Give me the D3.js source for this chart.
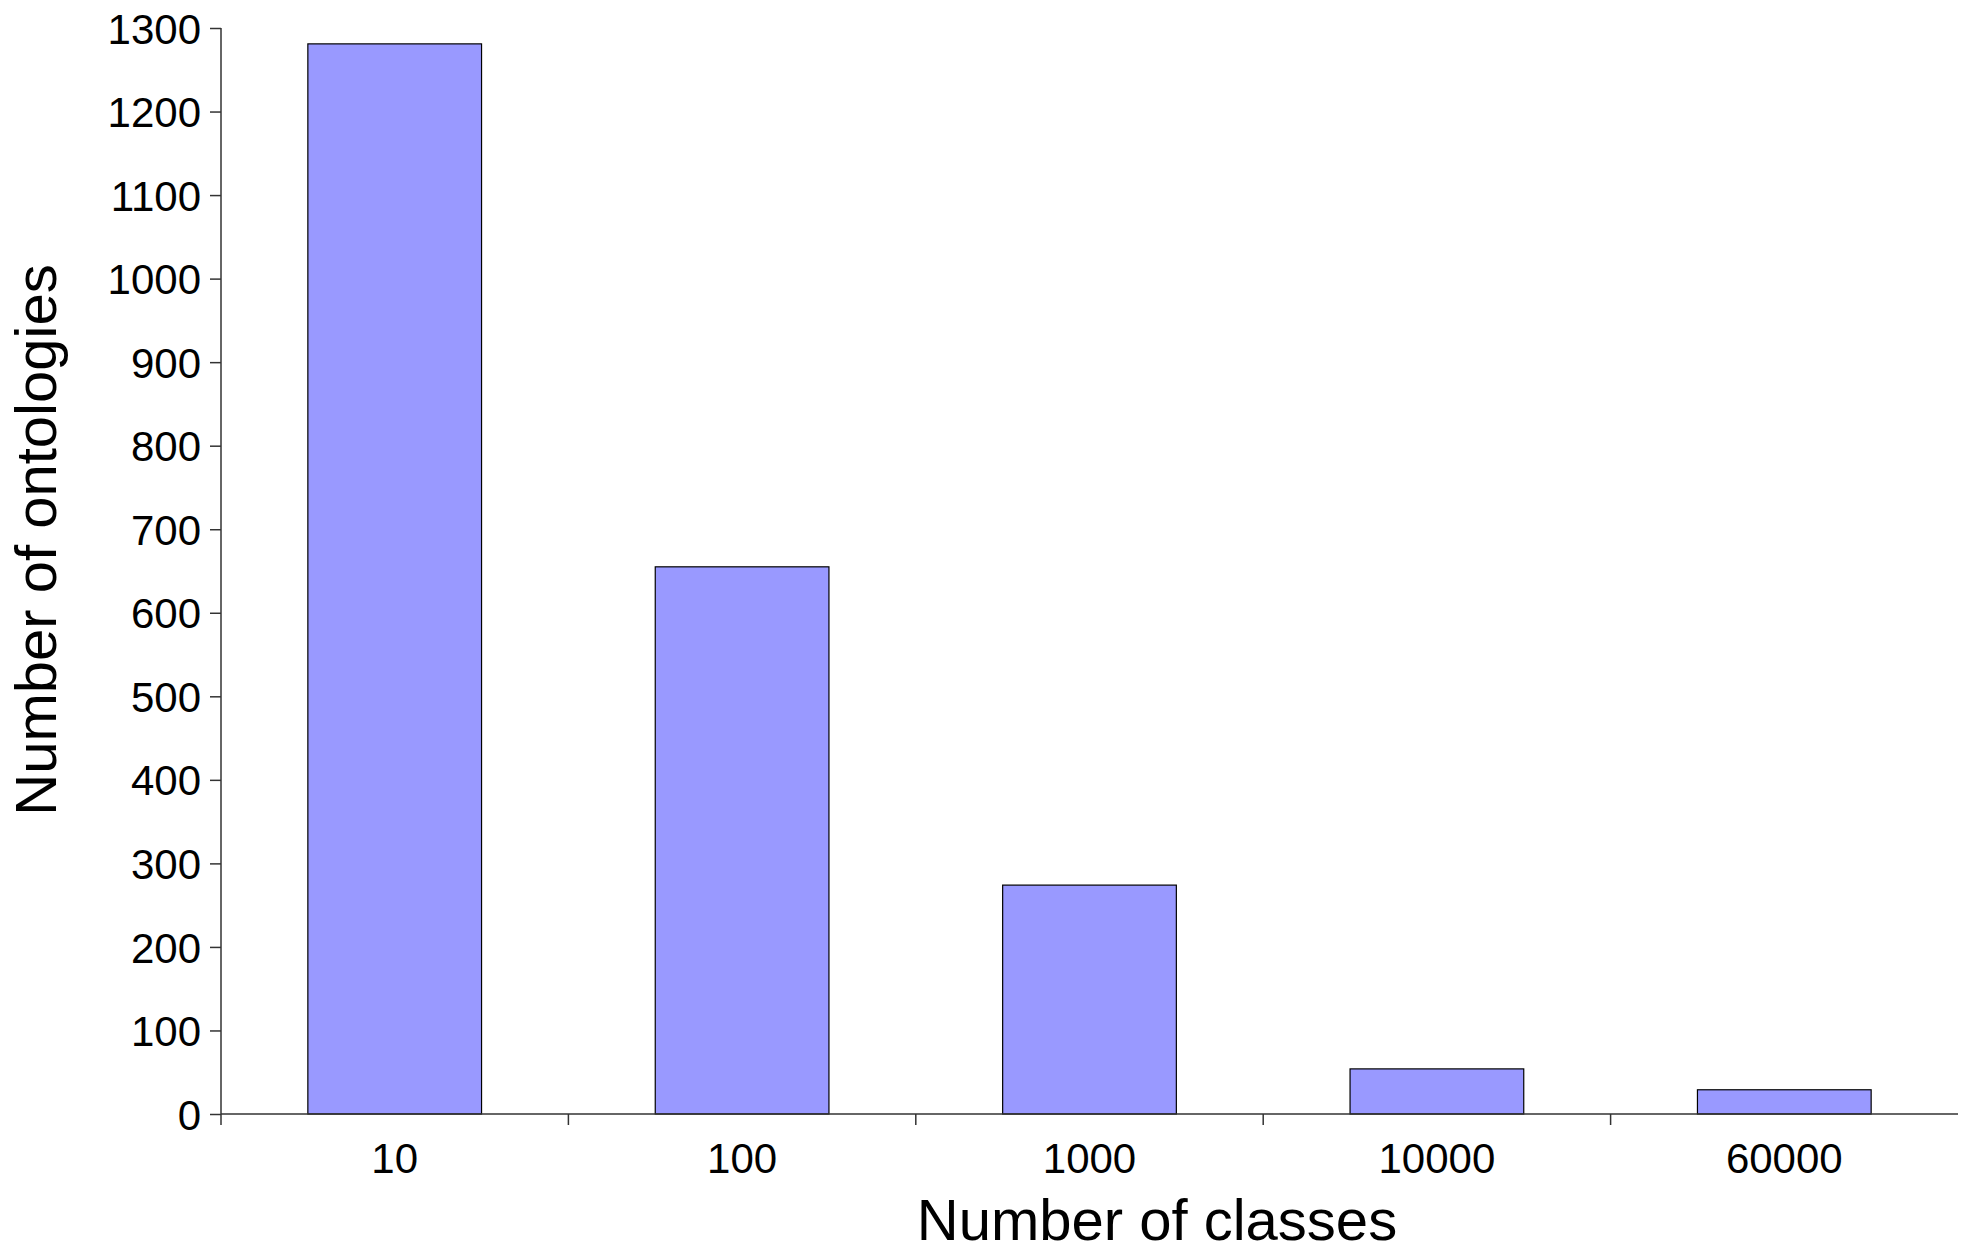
<!DOCTYPE html>
<html>
<head>
<meta charset="utf-8">
<script src="https://cdn.jsdelivr.net/npm/d3@7"></script>
<style>
    body { margin: 0; background: #fff; }
    svg { display: block; }
    text { font-family: "Liberation Sans", Arial, sans-serif; fill: #000; }
</style>
</head>
<body>
<svg id="chart" width="1972" height="1252"></svg>
<script>
// bins of class counts and how many ontologies fall in each
var categories = ["10", "100", "1000", "10000", "60000"];
var counts = [1281, 655, 274, 54, 29];
var yTicks = [0, 100, 200, 300, 400, 500, 600, 700, 800, 900, 1000, 1100, 1200, 1300];

var margin = {top: 28, right: 14, bottom: 138, left: 221},
    w = 1972 - margin.left - margin.right,
    h = 1252 - margin.top - margin.bottom;

var svg = d3.select("#chart")
    .append("g")
    .attr("transform", "translate(" + margin.left + "," + margin.top + ")");

var xScale = d3.scaleBand()
    .domain(categories)
    .range([0, w])
    .paddingInner(0.5)
    .paddingOuter(0.25);

var yScale = d3.scaleLinear()
    .domain([0, 1300])
    .range([h, 0]);

// bars
svg.append("g")
    .attr("class", "data")
    .selectAll("rect")
    .data(counts)
    .enter()
    .append("rect")
    .attr("x", function(d, i) { return xScale(categories[i]); })
    .attr("y", function(d) { return yScale(d); })
    .attr("width", xScale.bandwidth())
    .attr("height", function(d) { return h - yScale(d); })
    .style("fill", "#9999ff")
    .style("stroke", "#000")
    .style("stroke-width", 1.2);

// y axis
var yAxis = svg.append("g")
    .call(d3.axisLeft(yScale).tickValues(yTicks).tickFormat(d3.format("d")).tickSize(11).tickPadding(9));
yAxis.select(".domain").attr("d", "M0," + yScale(1300) + "V" + (h + 11)).attr("stroke", "#333").attr("stroke-width", 1.5);
yAxis.selectAll(".tick line").attr("stroke", "#333").attr("stroke-width", 1.5);
yAxis.selectAll(".tick text").style("font-size", "42px").attr("dy", "0.36em");

// x axis: labels at band centres, tick marks on band boundaries
var xAxis = svg.append("g")
    .attr("transform", "translate(0," + h + ")");
xAxis.append("line")
    .attr("x1", 0).attr("x2", w)
    .attr("stroke", "#333").attr("stroke-width", 1.5);
xAxis.selectAll("line.tick")
    .data(categories.slice(1))
    .enter()
    .append("line")
    .attr("class", "tick")
    .attr("x1", function(d) { return xScale(d) - xScale.bandwidth() / 2; })
    .attr("x2", function(d) { return xScale(d) - xScale.bandwidth() / 2; })
    .attr("y1", 0).attr("y2", 11)
    .attr("stroke", "#333").attr("stroke-width", 1.5);
xAxis.selectAll("text")
    .data(categories)
    .enter()
    .append("text")
    .attr("x", function(d) { return xScale(d) + xScale.bandwidth() / 2; })
    .attr("y", 59)
    .attr("text-anchor", "middle")
    .style("font-size", "42px")
    .text(function(d) { return d; });

// axis titles
svg.append("text")
    .attr("x", 936)
    .attr("y", h + 126)
    .attr("text-anchor", "middle")
    .style("font-size", "58px")
    .text("Number of classes");

svg.append("text")
    .attr("transform", "translate(" + (56 - margin.left) + "," + (540 - margin.top) + ") rotate(-90)")
    .attr("text-anchor", "middle")
    .style("font-size", "58px")
    .text("Number of ontologies");
</script>
</body>
</html>
